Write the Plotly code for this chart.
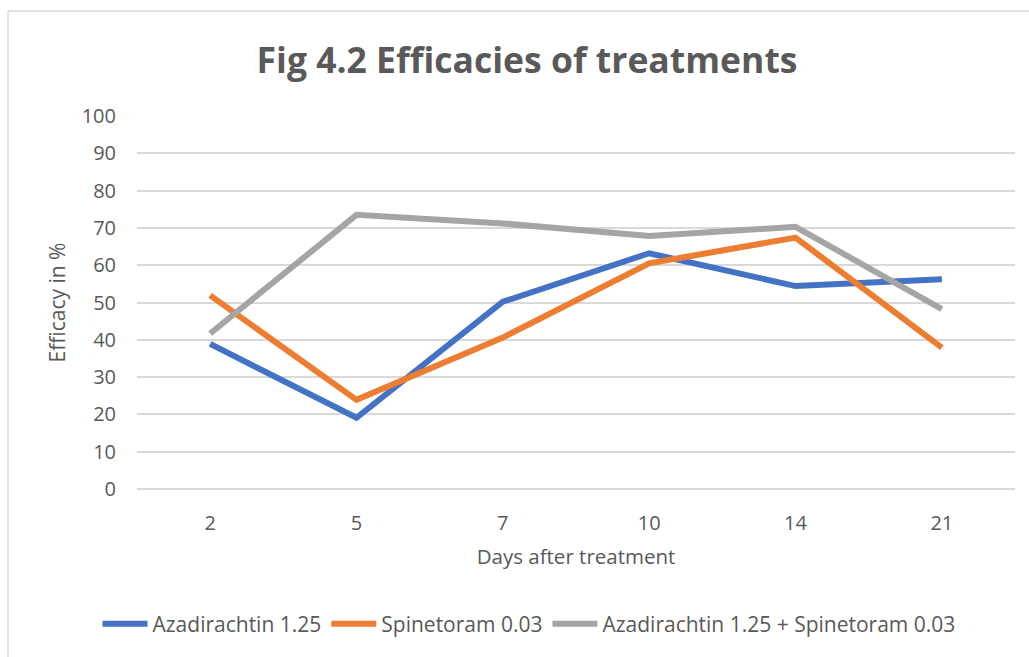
import plotly.graph_objects as go

days = ["2", "5", "7", "10", "14", "21"]
azadirachtin = [38.9, 19.1, 50.2, 63.2, 54.4, 56.2]
spinetoram = [51.9, 23.9, 40.6, 60.5, 67.4, 37.9]
combination = [41.7, 73.5, 71.2, 67.8, 70.3, 48.2]
series_names = ["Azadirachtin 1.25", "Spinetoram 0.03", "Azadirachtin 1.25 + Spinetoram 0.03"]
series_colors = ["#4472C4", "#ED7D31", "#A5A5A5"]
y_ticks = list(range(0, 101, 10))

FONT = "Open Sans"
fig = go.Figure()
for name, vals, col in zip(series_names, [azadirachtin, spinetoram, combination], series_colors):
    fig.add_trace(go.Scatter(x=days, y=vals, mode="lines", name=name,
                             line=dict(color=col, width=6)))

W, H = 1029, 657
L, R, T, B = 137, 14, 116, 168
pw, ph = W - L - R, H - T - B

fig.update_layout(
    width=W, height=H,
    margin=dict(l=L, r=R, t=T, b=B),
    paper_bgcolor="white", plot_bgcolor="white",
    font=dict(family=FONT, color="#595959"),
    title=dict(text="<b>Fig 4.2 Efficacies of treatments</b>", x=527 / W, xanchor="center",
               y=1 - 61 / H, yanchor="middle", font=dict(size=35.5, color="#595959", family=FONT)),
    xaxis=dict(type="category", range=[-0.5, len(days) - 0.5], showgrid=False, zeroline=False,
               showline=False, automargin=False,
               tickfont=dict(size=20, color="#595959"), ticks="", ticklabelstandoff=20,
               title=dict(text="Days after treatment", font=dict(size=20.5, color="#595959"), standoff=14)),
    yaxis=dict(range=[0, 100], tickvals=y_ticks, showgrid=True, gridcolor="#D9D9D9", gridwidth=1.5,
               zeroline=True, zerolinecolor="#D9D9D9", zerolinewidth=1.5,
               showline=False, ticks="", ticklabelstandoff=20, automargin=False,
               tickfont=dict(size=20, color="#595959"),
               title=dict(text="Efficacy in %", font=dict(size=21, color="#595959"), standoff=10)),
    legend=dict(orientation="h", x=(529 - L) / pw, xanchor="center", y=-(624 - 489) / ph,
                yanchor="middle", font=dict(size=21, color="#595959"), itemwidth=45,
                tracegroupgap=0, bgcolor="rgba(0,0,0,0)"),
    showlegend=True,
)

# outer chart border
fig.add_shape(type="rect", xref="paper", yref="paper",
              x0=(8 - L) / pw, x1=(1040 - L) / pw,
              y0=-(680 - (H - B)) / ph, y1=1 + (T - 11) / ph,
              line=dict(color="#D9D9D9", width=1.5), fillcolor="rgba(0,0,0,0)", layer="below")

fig.write_html("out.html", config={"displayModeBar": False},
               post_script="document.body.style.margin='0';")
